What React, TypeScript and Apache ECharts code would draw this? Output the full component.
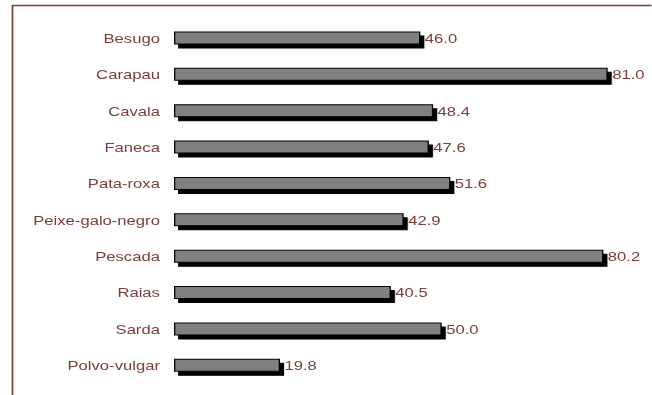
import React, { useEffect, useRef } from "react";
import * as echarts from "echarts";

const categories = [
  "Besugo",
  "Carapau",
  "Cavala",
  "Faneca",
  "Pata-roxa",
  "Peixe-galo-negro",
  "Pescada",
  "Raias",
  "Sarda",
  "Polvo-vulgar",
];
const values = [46.0, 81.0, 48.4, 47.6, 51.6, 42.9, 80.2, 40.5, 50.0, 19.8];

const TEXT = "#7a3e3a";
const FRAME = "#7a3e3a";
// the reference picture is stretched horizontally
const SX = 1.28;

export default function App() {
  const ref = useRef<HTMLDivElement>(null);
  useEffect(() => {
    document.body.style.margin = "0";
    const chart = echarts.init(ref.current!, null, { renderer: "svg" });
    chart.setOption({
      animation: false,
      backgroundColor: "#ffffff",
      grid: { left: 174 / SX, top: 19.8, height: 363.7, width: (85 * 5.354) / SX },
      xAxis: { type: "value", min: 0, max: 85, show: false },
      yAxis: {
        type: "category",
        data: categories,
        inverse: true,
        axisLine: { show: false },
        axisTick: { show: false },
        splitLine: { show: false },
        axisLabel: {
          margin: 11,
          color: TEXT,
          fontFamily: "Liberation Sans, Arial, sans-serif",
          fontSize: 13,
        },
      },
      graphic: [
        {
          type: "polyline",
          shape: { points: [[12.5 / SX, 400], [12.5 / SX, 5.5], [660, 5.5]] },
          style: { stroke: FRAME, lineWidth: 1.3, fill: null },
        },
      ],
      series: [
        {
          type: "bar",
          data: values,
          barWidth: 13,
          itemStyle: {
            color: "#808080",
            borderColor: "#000000",
            borderWidth: 1,
            shadowColor: "#000000",
            shadowBlur: 0,
            shadowOffsetX: 3.2,
            shadowOffsetY: 4,
          },
          label: {
            show: true,
            position: "right",
            distance: 3.5,
            color: TEXT,
            fontFamily: "Liberation Sans, Arial, sans-serif",
            fontSize: 13,
            formatter: (p: any) => Number(p.value).toFixed(1),
          },
        },
      ],
    });
    return () => chart.dispose();
  }, []);
  return (
    <div style={{ width: 652, height: 395, overflow: "hidden" }}>
      <div
        ref={ref}
        style={{
          width: 652 / SX,
          height: 395,
          transform: `scaleX(${SX})`,
          transformOrigin: "0 0",
        }}
      />
    </div>
  );
}
